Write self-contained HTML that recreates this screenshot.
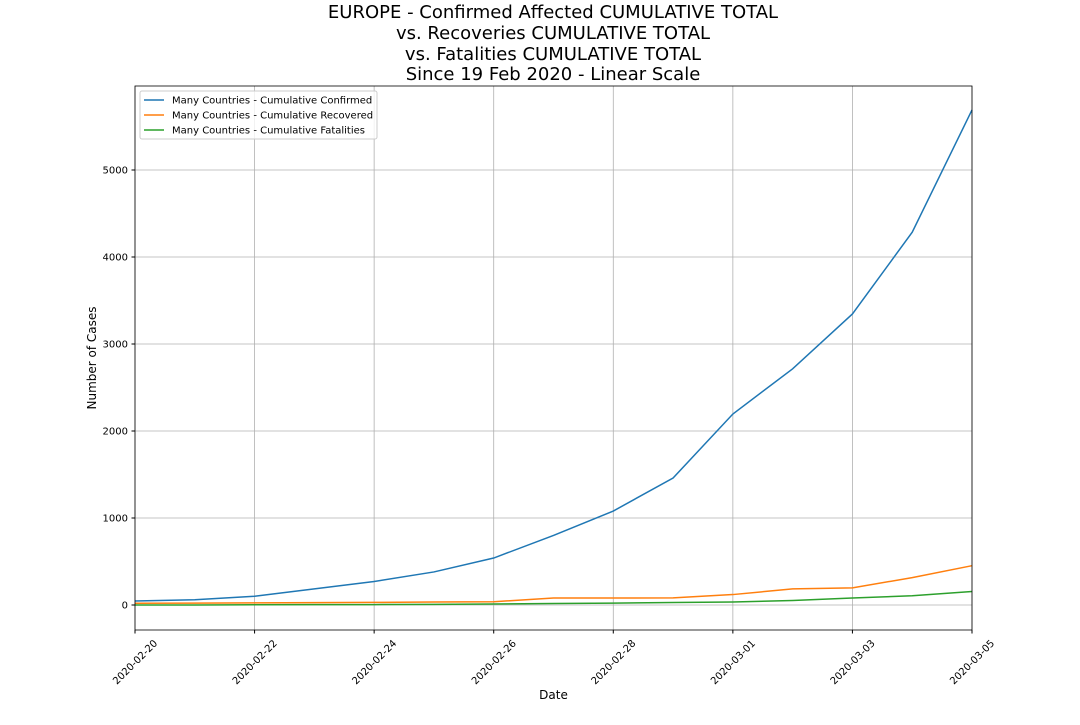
<!DOCTYPE html>
<html><head><meta charset="utf-8"><style>
body{margin:0;background:#fff;font-family:"Liberation Sans","DejaVu Sans",sans-serif}
svg text{font-family:"DejaVu Sans","Liberation Sans",sans-serif}
</style></head><body>
<svg id="chart" width="1080" height="720" xmlns="http://www.w3.org/2000/svg">
<g id="title" font-size="18" text-anchor="middle" fill="#000">
<text x="553" y="18">EUROPE - Confirmed Affected CUMULATIVE TOTAL</text>
<text x="553" y="39">vs. Recoveries CUMULATIVE TOTAL</text>
<text x="553" y="60">vs. Fatalities CUMULATIVE TOTAL</text>
<text x="553" y="80">Since 19 Feb 2020 - Linear Scale</text>
</g>
<g id="grid"></g><g id="series"></g><g id="axes"></g>
</svg>
<script>
const dates=["2020-02-20","2020-02-21","2020-02-22","2020-02-23","2020-02-24","2020-02-25","2020-02-26","2020-02-27","2020-02-28","2020-02-29","2020-03-01","2020-03-02","2020-03-03","2020-03-04","2020-03-05"];
const confirmed=[46,60,100,185,270,380,540,800,1080,1460,2195,2715,3345,4285,5690];
const recovered=[20,22,25,28,30,35,38,80,80,82,120,185,197,315,452];
const fatalities=[0,0,3,4,5,7,12,17,21,29,35,52,80,107,155];
const yTicks=[0,1000,2000,3000,4000,5000];
const xTickLabels=["2020-02-20","2020-02-22","2020-02-24","2020-02-26","2020-02-28","2020-03-01","2020-03-03","2020-03-05"];
const seriesNames=["Many Countries - Cumulative Confirmed","Many Countries - Cumulative Recovered","Many Countries - Cumulative Fatalities"];
const colors=["#1f77b4","#ff7f0e","#2ca02c"];
const L=135,R=972,T=86,B=630;
const x=i=>L+(R-L)*i/(dates.length-1);
const y=v=>605-v*0.087;
const NS="http://www.w3.org/2000/svg";
function mk(t,a,p){const e=document.createElementNS(NS,t);for(const k in a)e.setAttribute(k,a[k]);p.appendChild(e);return e;}
const grid=document.getElementById('grid'),ser=document.getElementById('series'),ax=document.getElementById('axes');
yTicks.forEach(v=>{
 const g=mk('line',{x1:L,x2:R,y1:y(v),y2:y(v),stroke:'#b0b0b0','stroke-width':0.8},grid);
 
 
 mk('line',{x1:L-3.5,x2:L,y1:y(v),y2:y(v),stroke:'#000'},ax);
 const t=mk('text',{x:L-7,y:y(v)+3.5,'font-size':10,'text-anchor':'end'},ax);t.textContent=v;
 
 
});
xTickLabels.forEach(d=>{
 const i=dates.indexOf(d),px=x(i);
 const g=mk('line',{x1:px,x2:px,y1:T,y2:B,stroke:'#b0b0b0','stroke-width':0.8},grid);
 
 
 mk('line',{x1:px,x2:px,y1:B,y2:B+3.5,stroke:'#000'},ax);
 const cy=B+32;
 const t=mk('text',{x:px,y:cy+3.5,'font-size':10,'text-anchor':'middle',transform:`rotate(-45 ${px} ${cy})`},ax);t.textContent=d;
 
 
});
[confirmed,recovered,fatalities].forEach((s,k)=>{
 const p=mk('polyline',{points:s.map((v,i)=>x(i)+','+y(v)).join(' '),fill:'none',stroke:colors[k],'stroke-width':1.5},ser);
 
 
});
const fr=mk('rect',{x:L,y:T,width:R-L,height:B-T,fill:'none',stroke:'#000','stroke-width':0.8},ax);


let t=mk('text',{x:(L+R)/2,y:699,'font-size':12,'text-anchor':'middle'},ax);t.textContent='Date';


t=mk('text',{x:96,y:358,'font-size':12,'text-anchor':'middle',transform:'rotate(-90 96 358)'},ax);t.textContent='Number of Cases';


const lg=mk('g',{},ax);


mk('rect',{x:140,y:91,width:237,height:48,rx:2,fill:'#fff','fill-opacity':0.8,stroke:'#ccc'},lg);
seriesNames.forEach((n,k)=>{
 const yy=100+k*15;
 const e=mk('g',{},lg);
 
 
 mk('line',{x1:144,x2:164,y1:yy,y2:yy,stroke:colors[k],'stroke-width':1.5},e);
 const tt=mk('text',{x:172,y:yy+3.5,'font-size':10},e);tt.textContent=n;
});
</script>
</body></html>
